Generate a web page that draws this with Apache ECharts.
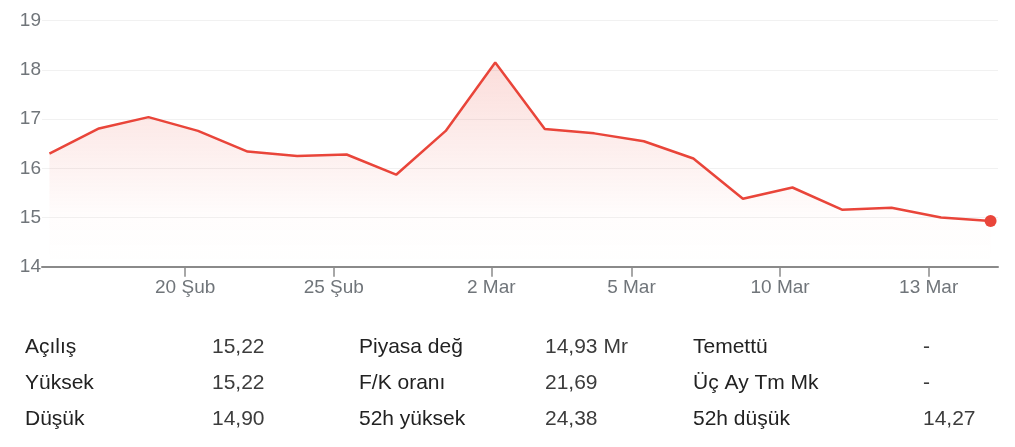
<!DOCTYPE html>
<html>
<head>
<meta charset="utf-8">
<script src="https://cdn.jsdelivr.net/npm/echarts@6/dist/echarts.min.js"></script>
<style>
  html, body { margin: 0; padding: 0; background: #fff; }
  #chart { width: 1015px; height: 447px; }
</style>
</head>
<body>
<div id="chart"></div>
<script>
  // closing prices, one per trading session
  var prices = [16.30, 16.81, 17.04, 16.76, 16.34, 16.25, 16.28, 15.87, 16.76, 18.15,
                16.80, 16.71, 16.55, 16.20, 15.38, 15.61, 15.16, 15.20, 15.00, 14.93]

  // date ticks, positioned in session-index units
  var tickLabels = ['20 Şub', '25 Şub', '2 Mar', '5 Mar', '10 Mar', '13 Mar']
  var tickAt = [2.74, 5.74, 8.92, 11.75, 14.75, 17.75]

  // summary table below the chart
  var statNames = [
      ['Açılış', 'Yüksek', 'Düşük'],
      ['Piyasa değ', 'F/K oranı', '52h yüksek'],
      ['Temettü', 'Üç Ay Tm Mk', '52h düşük']
  ]
  var statValues = [
      ['15,22', '15,22', '14,90'],
      ['14,93 Mr', '21,69', '24,38'],
      ['-', '-', '14,27']
  ]

  var FONT = '"Liberation Sans", Arial, sans-serif'
  var RED = '#e9453a'

  var chart = echarts.init(document.getElementById('chart'))

  var lineData = prices.map(function (v, i) { return [i, v] })
  var last = prices.length - 1

  // table as graphic texts
  var nameX = [25, 359, 693]
  var valueX = [212, 545, 923]
  var rowY = [347, 383, 419]
  var graphics = []
  statNames.forEach(function (col, c) {
      col.forEach(function (name, r) {
          graphics.push({
              type: 'text', left: nameX[c], top: rowY[r] - 10,
              style: { text: name, font: '21px ' + FONT, fill: '#222' }
          })
          graphics.push({
              type: 'text', left: valueX[c], top: rowY[r] - 10,
              style: { text: statValues[c][r], font: '21px ' + FONT, fill: '#3c3c3c' }
          })
      })
  })

  chart.setOption({
      animation: false,
      grid: {
          left: 42,
          right: 17,
          top: 20.7,
          bottom: 180.3
      },
      xAxis: {
          type: 'value',
          min: -0.15,
          max: last + 0.15,
          splitLine: { show: false },
          axisLine: {
              lineStyle: { color: '#8a8a8a', width: 2 }
          },
          axisTick: {
              show: true,
              customValues: tickAt,
              length: 10,
              lineStyle: { color: '#8a8a8a', width: 1.5 }
          },
          axisLabel: {
              customValues: tickAt,
              margin: 12,
              color: '#70757a',
              fontSize: 19,
              fontFamily: FONT,
              formatter: function (val) {
                  var k = tickAt.indexOf(val)
                  return k >= 0 ? tickLabels[k] : ''
              }
          }
      },
      yAxis: {
          type: 'value',
          min: 14,
          max: 19,
          interval: 1,
          axisLine: { show: false },
          axisTick: { show: false },
          splitLine: {
              lineStyle: { color: '#f1f1f1', width: 1 }
          },
          axisLabel: {
              margin: 1,
              color: '#70757a',
              fontSize: 19,
              fontFamily: FONT
          }
      },
      series: [{
          type: 'line',
          data: lineData,
          symbol: 'none',
          smooth: false,
          lineStyle: { color: RED, width: 2.5 },
          areaStyle: {
              color: {
                  type: 'linear', x: 0, y: 0, x2: 0, y2: 1,
                  colorStops: [
                      { offset: 0, color: 'rgba(234,67,53,0.26)' },
                      { offset: 0.75, color: 'rgba(234,67,53,0.02)' },
                      { offset: 1, color: 'rgba(234,67,53,0)' }
                  ]
              }
          },
          z: 2
      }, {
          type: 'scatter',
          data: [lineData[last]],
          symbol: 'circle',
          symbolSize: 12,
          itemStyle: { color: RED, opacity: 1 },
          z: 3
      }],
      graphic: graphics
  })
</script>
</body>
</html>
